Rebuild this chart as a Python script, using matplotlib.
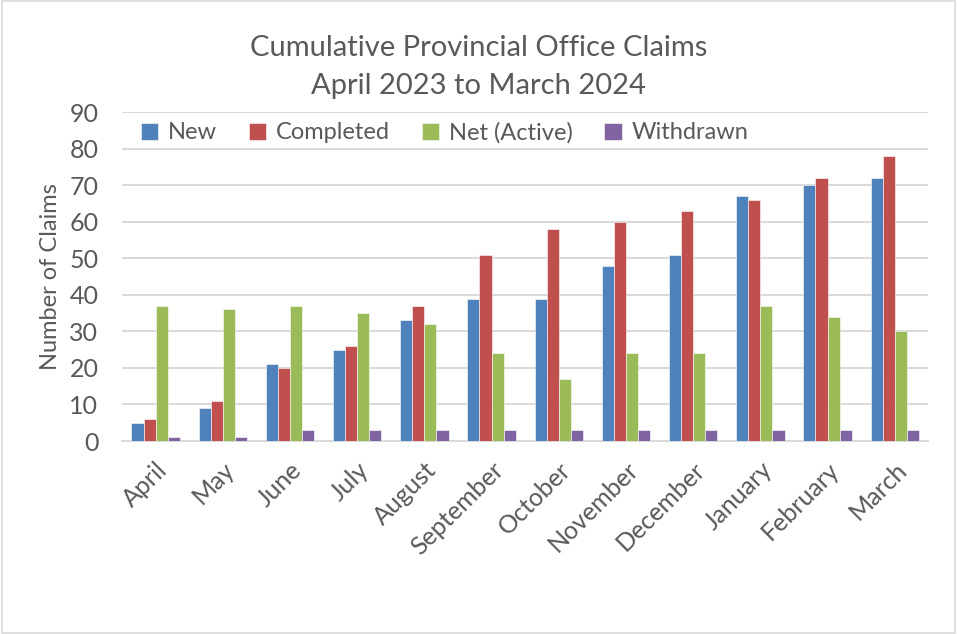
import numpy as np
import matplotlib.pyplot as plt
from matplotlib.patches import Rectangle

months = ['April', 'May', 'June', 'July', 'August', 'September', 'October',
          'November', 'December', 'January', 'February', 'March']
new       = [5, 9, 21, 25, 33, 39, 39, 48, 51, 67, 70, 72]
completed = [6, 11, 20, 26, 37, 51, 58, 60, 63, 66, 72, 78]
net       = [37, 36, 37, 35, 32, 24, 17, 24, 24, 37, 34, 30]
withdrawn = [1, 1, 3, 3, 3, 3, 3, 3, 3, 3, 3, 3]

series = [('New', new, '#4F81BD'),
          ('Completed', completed, '#C0504D'),
          ('Net (Active)', net, '#9BBB59'),
          ('Withdrawn', withdrawn, '#8064A2')]

plt.rcParams['font.family'] = ['Lato', 'DejaVu Sans']
text_col = '#595959'

fig = plt.figure(figsize=(9.57, 6.34), dpi=100)
ax = fig.add_axes([0.1275, 0.3044, 0.8425, 0.5186])

x = np.arange(len(months))
w = 0.18
for i, (name, vals, col) in enumerate(series):
    ax.bar(x + (i - 1.5) * w, vals, w, color=col, label=name,
           edgecolor='white', linewidth=0.4, zorder=3)

ax.set_xlim(-0.5, len(months) - 0.5)
ax.set_ylim(0, 90)
ax.set_yticks(range(0, 91, 10))
ax.yaxis.grid(True, color='#d9d9d9', linewidth=1.4, zorder=0)
ax.set_axisbelow(True)
for s in ['top', 'right', 'left']:
    ax.spines[s].set_visible(False)
ax.spines['bottom'].set_color('#d9d9d9')
ax.spines['bottom'].set_linewidth(1.4)
ax.tick_params(length=0, labelsize=18, colors=text_col)
ax.tick_params(axis='y', pad=17)
ax.tick_params(axis='x', pad=12)
ax.set_xticks(x)
ax.set_xticklabels(months, rotation=45, ha='right', rotation_mode='anchor')
ax.set_ylabel('Number of Claims', fontsize=17, color=text_col, labelpad=6)

fig.suptitle('Cumulative Provincial Office Claims\nApril 2023 to March 2024',
             fontsize=21, color=text_col, y=0.945, linespacing=1.6)

leg = ax.legend(ncol=4, loc='upper center', bbox_to_anchor=(0.40, 1.035),
                frameon=False, fontsize=17, handlelength=0.75, handleheight=0.75,
                columnspacing=1.35, handletextpad=0.4)
for t in leg.get_texts():
    t.set_color(text_col)

fig.patches.append(Rectangle((0.002, 0.002), 0.996, 0.996, transform=fig.transFigure,
                             fill=False, edgecolor='#d9d9d9', linewidth=1.2))

fig.savefig('out.png', dpi=100)
